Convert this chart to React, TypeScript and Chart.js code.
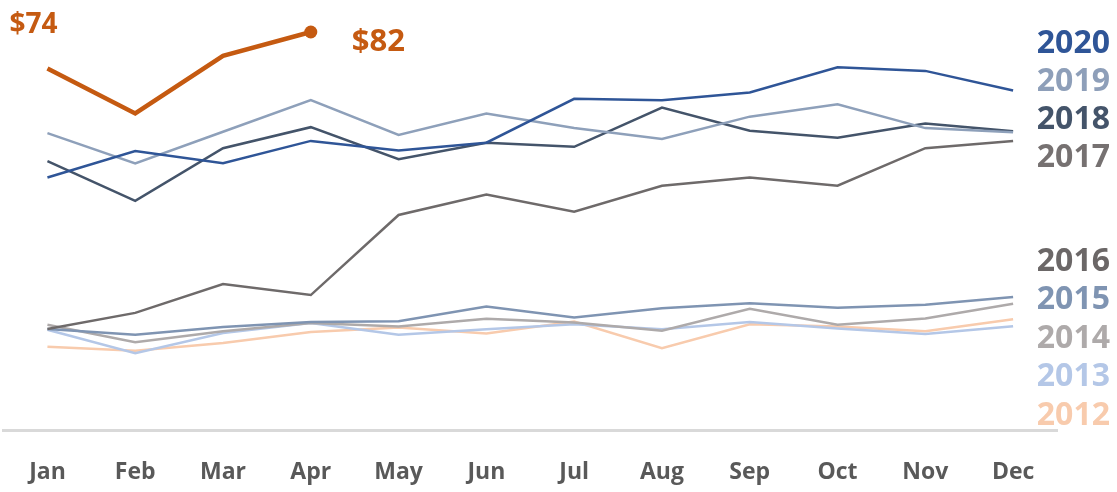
import React, { useEffect, useRef } from "react";
import { Chart, registerables } from "chart.js";

Chart.register(...registerables);

const months = ["Jan", "Feb", "Mar", "Apr", "May", "Jun", "Jul", "Aug", "Sep", "Oct", "Nov", "Dec"];

const y2021 = [74, 64.2, 76.8, 82];
const y2020 = [50.2, 56.0, 53.3, 58.2, 56.1, 57.8, 67.4, 67.1, 68.8, 74.3, 73.5, 69.2];
const y2019 = [59.9, 53.3, 60.2, 67.1, 59.5, 64.2, 61.0, 58.6, 63.5, 66.2, 61.0, 60.1];
const y2018 = [53.8, 45.1, 56.6, 61.2, 54.2, 57.8, 56.9, 65.5, 60.4, 58.9, 62.0, 60.3];
const y2017 = [17.1, 20.6, 26.9, 24.5, 42.0, 46.5, 42.7, 48.4, 50.2, 48.4, 56.6, 58.2];
const y2015 = [17.1, 15.8, 17.5, 18.6, 18.8, 22.0, 19.6, 21.6, 22.7, 21.7, 22.4, 24.1];
const y2014 = [18.0, 14.2, 16.6, 18.4, 17.6, 19.3, 18.5, 16.7, 21.5, 18.0, 19.4, 22.6];
const y2013 = [16.9, 11.8, 16.2, 18.4, 15.8, 17.0, 18.1, 17.0, 18.6, 17.2, 16.0, 17.7];
const y2012 = [13.2, 12.3, 14.0, 16.4, 17.4, 16.1, 18.7, 12.9, 18.1, 17.6, 16.6, 19.2];

const currentLabels = ["$74", "$82"];
const legendTop = ["2020", "2019", "2018", "2017"];
const legendTopColors = ["#2F5597", "#8E9FB9", "#44546A", "#767171"];
const legendBottom = ["2016", "2015", "2014", "2013", "2012"];
const legendBottomColors = ["#6B6767", "#7F94B2", "#AEAAAA", "#B4C7E7", "#F8CBAD"];

const ORANGE = "#C55A11";
const FONT = "'Open Sans', 'DejaVu Sans', sans-serif";

const labelPlugin = {
  id: "labelPlugin",
  afterDatasetsDraw(chart: any) {
    const ctx = chart.ctx;
    const area = chart.chartArea;
    const meta = chart.getDatasetMeta(0);
    const p0 = meta.data[0];
    const p3 = meta.data[3];
    ctx.save();
    ctx.fillStyle = ORANGE;
    ctx.textAlign = "left";
    ctx.textBaseline = "alphabetic";
    ctx.font = `bold 28px ${FONT}`;
    ctx.fillText(currentLabels[0], p0.x - 38, p0.y - 46 + 0.357 * 28);
    ctx.font = `bold 31px ${FONT}`;
    ctx.fillText(currentLabels[1], p3.x + 41, p3.y + 8 + 0.357 * 31);

    ctx.textAlign = "right";
    ctx.font = `bold 32px ${FONT}`;
    const xr = chart.width - 7;
    legendTop.forEach((t, i) => {
      ctx.fillStyle = legendTopColors[i];
      const cy = area.top + 42 + i * 37.8;
      ctx.fillText(t, xr, cy + 0.357 * 32);
    });
    legendBottom.forEach((t, i) => {
      ctx.fillStyle = legendBottomColors[i];
      const cy = area.bottom - 170.5 + i * 38.4;
      ctx.fillText(t, xr, cy + 0.357 * 32);
    });
    ctx.restore();
  },
};

export default function App() {
  const ref = useRef<HTMLCanvasElement | null>(null);
  useEffect(() => {
    document.body.style.margin = "0";
    const line = (label: string, data: number[], color: string, width = 2.5) => ({
      label,
      data,
      borderColor: color,
      backgroundColor: color,
      borderWidth: width,
      pointRadius: 0,
      tension: 0,
      fill: false,
    });
    const chart = new Chart(ref.current as HTMLCanvasElement, {
      type: "line",
      data: {
        labels: months,
        datasets: [
          {
            ...line("2021", y2021, ORANGE, 4.5),
            pointRadius: y2021.map((_, i) => (i === y2021.length - 1 ? 6.5 : 0)),
            pointBorderWidth: 0,
          },
          line("2020", y2020, "#2F5597"),
          line("2019", y2019, "#8EA0BA"),
          line("2018", y2018, "#44546A"),
          line("2017", y2017, "#6E6A6A"),
          line("2015", y2015, "#7F94B2"),
          line("2014", y2014, "#AEAAAA"),
          line("2013", y2013, "#B4C7E7"),
          line("2012", y2012, "#F8CBAD"),
        ],
      },
      options: {
        responsive: false,
        animation: false,
        layout: { autoPadding: false, padding: { left: 3, right: 60, top: 0, bottom: 0 } },
        plugins: { legend: { display: false }, tooltip: { enabled: false } },
        scales: {
          x: {
            offset: true,
            grid: { display: false, drawTicks: false },
            border: { display: true, color: "#D9D9D9", width: 3 },
            ticks: {
              color: "#595959",
              font: { family: FONT, size: 23, weight: "bold" },
              padding: 29,
              maxRotation: 0,
              autoSkip: false,
            },
            afterFit: (scale: any) => {
              scale.height = 62;
            },
          },
          y: {
            display: false,
            min: -5,
            max: 89,
          },
        },
      },
      plugins: [labelPlugin],
    } as any);
    return () => chart.destroy();
  }, []);
  return <canvas ref={ref} width={1117} height={492} />;
}
